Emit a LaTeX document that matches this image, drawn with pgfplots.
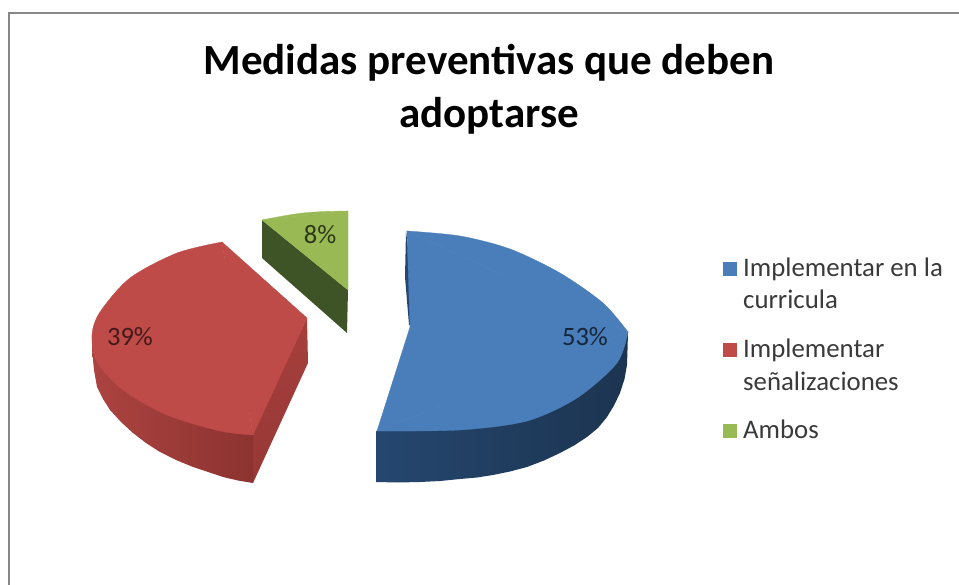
\documentclass[border=0pt]{standalone}
\usepackage{pgfplots}
\pgfplotsset{compat=1.18}
\usepackage{fontspec}
\setmainfont{Carlito}
\definecolor{bface}{HTML}{4A7EBB}
\definecolor{rface}{HTML}{BE4B48}
\definecolor{gface}{HTML}{98B954}
\definecolor{gside}{HTML}{3E5326}
\definecolor{rsideA}{HTML}{AC4340}
\definecolor{rsideB}{HTML}{8C3330}
\definecolor{rsideC}{HTML}{A63F3C}
\definecolor{bsideA}{HTML}{25476F}
\definecolor{bsideB}{HTML}{1C3450}
\definecolor{txt}{HTML}{3A3A3A}
\begin{document}
\begin{tikzpicture}
\begin{axis}[scale only axis,width=959pt,height=585pt,xmin=0,xmax=959,ymin=0,ymax=585,y dir=reverse,
  axis lines=none,clip=true]
% background
\addplot[fill=white,draw=none] coordinates {(0,0)(959,0)(959,585)(0,585)} --cycle;
% frame
\addplot[color=black!47,line width=2.4pt,no marks] coordinates {(9,585)(9,13)(959,13)};
% green slice
\addplot[fill=gside,draw=none] coordinates {(262,220)(262,258)(347,333)(348,290)} --cycle;
\addplot[fill=gface,draw=gface,line width=0.3pt] coordinates {(262,220)(348,211)(348,290)} --cycle;
\addplot[fill=gface,draw=gface,line width=0.3pt,smooth] coordinates {(262,220)(283,216)(303,213)(325,211.5)(348,211)} --cycle;
% red slice sides
\addplot[top color=rsideC,bottom color=rsideB!60!rsideC,draw=none] coordinates {(253,430)(253,483)(308,363)(307,318)} --cycle;
\addplot[left color=rsideA,right color=rsideB,draw=none] coordinates {(92,333)(92,350)(94,370)(97,387)(103,399)(110,410)(121,422)(133,433)(146,443)(160,452)(176,460)(193,467)(208,472)(223,477)(238,480.5)(253,483)(253,433)(220,420)} --cycle;
% red face
\addplot[fill=rface,draw=rface,line width=0.3pt] coordinates {(222,242)(253,435)(307,318)} --cycle;
\addplot[fill=rface,draw=rface,line width=0.3pt,smooth] coordinates {(222,242)(177,253)(130,278)(100,312)(92,335)(97,362)(123,390)(167,415)(220,431)(253,435)} --cycle;
\addplot[fill=rface,draw=none] coordinates {(215,252)(200,300)(240,425)(270,380)(260,300)} --cycle;
% blue slice side
\addplot[left color=bsideA,right color=bsideB,draw=none] coordinates {(376,431)(376,482)(398,482.5)(420,482)(440,481)(460,479)(477,477.5)(493,475)(510,471.5)(527,467)(544,460.5)(560,453)(574,445.5)(587,437)(598,428)(607,417)(614,405.5)(620,393)(624.5,379)(627,365)(627.5,350)(628,332)(500,400)} --cycle;
% blue inner sliver
\addplot[fill=bsideA,draw=none] coordinates {(406,231)(405,277)(409,325)(413,327)(412,280)} --cycle;
% blue face
\addplot[fill=bface,draw=bface,line width=0.3pt] coordinates {(407,231)(628,332)(377,431)(410,327)} --cycle;
\addplot[fill=bface,draw=bface,line width=0.3pt,smooth] coordinates {(407,231)(460,236)(510,249)(560,273)(603,303)(628,332)} --cycle;
\addplot[fill=bface,draw=bface,line width=0.3pt,smooth] coordinates {(628,332)(617,363)(577,398)(527,421)(460,430)(377,431)} --cycle;
\addplot[fill=bface,draw=none] coordinates {(440,250)(600,315)(600,350)(440,420)} --cycle;
% legend keys
\addplot[only marks,mark=square*,mark size=6.5pt,color=bface] coordinates {(729.5,268.5)};
\addplot[only marks,mark=square*,mark size=6.5pt,color=rface] coordinates {(729.5,349.5)};
\addplot[only marks,mark=square*,mark size=6.5pt,color=gface] coordinates {(729.5,431)};
% title
\node[anchor=base,font=\bfseries\fontsize{43}{43}\selectfont,text=black] at (axis cs:489,75) {Medidas preventivas que deben};
\node[anchor=base,font=\bfseries\fontsize{43}{43}\selectfont,text=black] at (axis cs:489,128) {adoptarse};
% legend text
\begin{scope}[every node/.style={anchor=base west,font=\fontsize{26.8}{26.8}\selectfont,text=txt,inner sep=0pt}]
\node at (axis cs:743,277) {Implementar en la};
\node at (axis cs:743,309) {curricula};
\node at (axis cs:743,358) {Implementar};
\node at (axis cs:743,391) {señalizaciones};
\node at (axis cs:743,438) {Ambos};
\end{scope}
% data labels
\begin{scope}[every node/.style={anchor=base,font=\fontsize{26.5}{26.5}\selectfont,inner sep=0pt}]
\node[text=bface!30!black] at (axis cs:585,346) {53\%};
\node[text=rface!35!black] at (axis cs:130,346) {39\%};
\node[text=gface!30!black] at (axis cs:320,244) {8\%};
\end{scope}
\end{axis}
\end{tikzpicture}
\end{document}
